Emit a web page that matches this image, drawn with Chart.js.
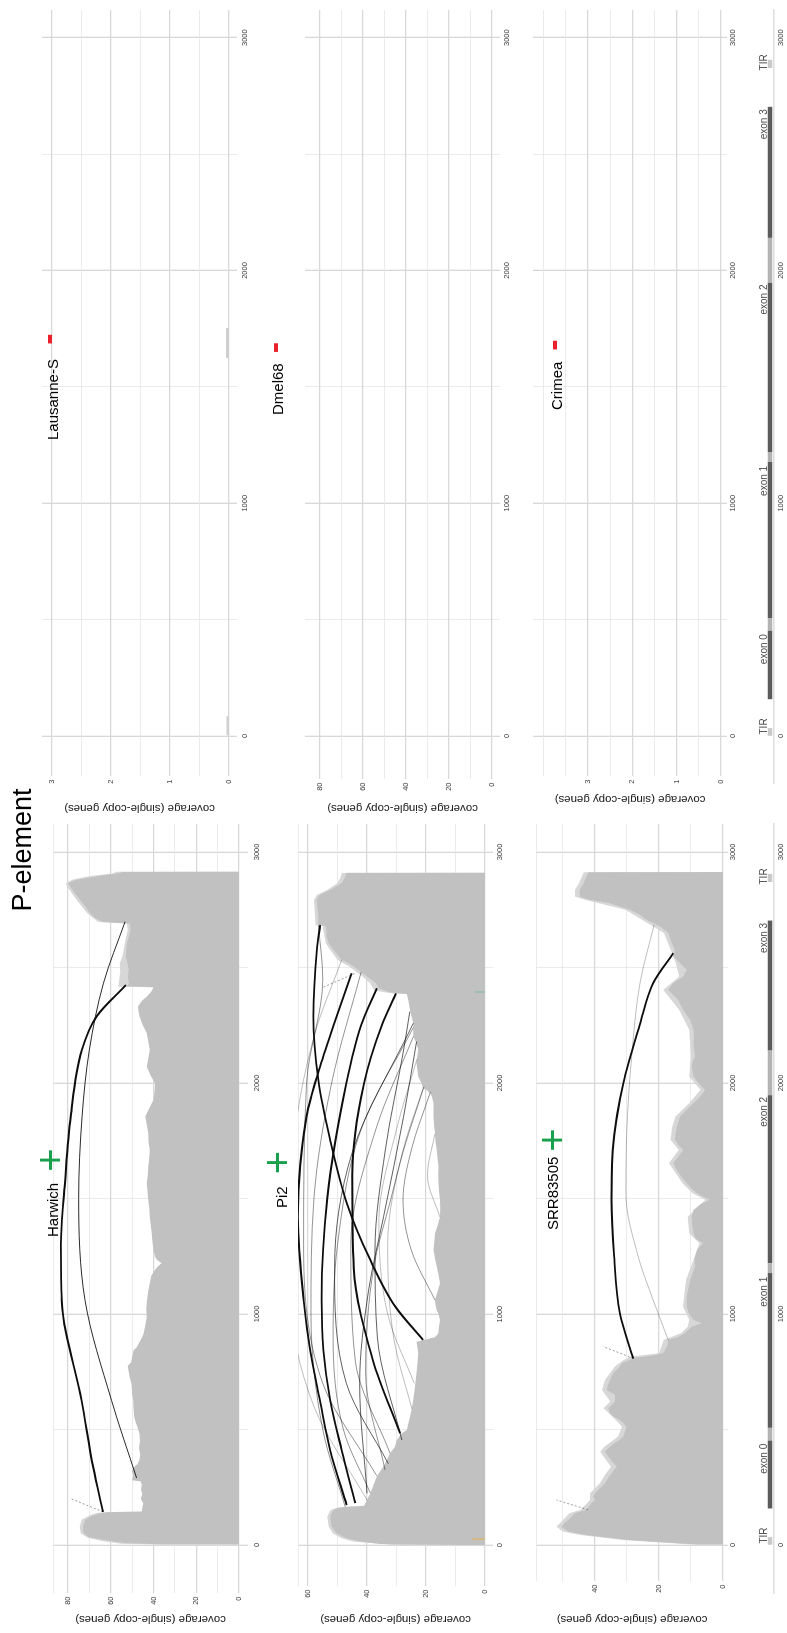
<!DOCTYPE html>
<html>
<head>
<meta charset="utf-8">
<title>P-element coverage</title>
<script src="https://cdn.jsdelivr.net/npm/chart.js@4.4.1/dist/chart.umd.min.js"></script>
<style>
  html, body { margin:0; padding:0; background:#fff; width:787px; height:1633px; overflow:hidden; }
  /* the figure is laid out in landscape and turned a quarter-turn counter-clockwise */
  #sheet { position:absolute; left:0; top:0; width:1633px; height:787px; transform-origin:0 0;
           transform: translate(0px, 1633px) rotate(-90deg);
           font-family:"Liberation Sans", Arial, Helvetica, sans-serif; background:#fff; }
  #sheet canvas { position:absolute; }
  .txt { position:absolute; white-space:nowrap; color:#000; }
</style>
</head>
<body>
<div id="sheet"></div>
<script>
// ---------------- data ----------------
const xTicks = [0, 500, 1000, 1500, 2000, 2500, 3000];
const xLabelTicks = [0, 1000, 2000, 3000];

// coverage profiles: [position (bp), coverage]
const harwichCoverage = [[0,0],[3,38],[9,54],[20,62],[35,70.6],[50,72.5],[63,73],[85,72.8],[108,72],[125,69],[137,65],[142,62],[145,45.5],[160,45.3],[180,44.8],[200,46],[220,45.3],[240,45.8],[260,45.5],[275,46],[280,50],[300,49.5],[320,50.2],[338,49],[350,47.5],[366,46.7],[390,46.2],[420,46.8],[450,46.3],[481,46.5],[510,47.5],[530,48.3],[553,49],[590,49.3],[625,49.5],[660,50],[697,50.3],[730,51.2],[760,51.8],[775,52],[790,50.5],[810,50],[842,49.4],[855,48],[870,47],[890,45.8],[913,44.7],[950,43.8],[986,43.1],[1020,43.4],[1058,43],[1100,42.5],[1133,41.7],[1165,41],[1191,39.3],[1205,38],[1220,36.2],[1235,38.5],[1248,39.3],[1277,40],[1310,40.5],[1349,40.8],[1385,41.3],[1421,41.7],[1460,42],[1494,42.4],[1530,42.8],[1566,43.2],[1600,42.7],[1638,42.4],[1675,42],[1710,41.7],[1745,42.3],[1782,42.4],[1820,43.2],[1855,43.9],[1890,42],[1927,40],[1960,39.5],[1999,39.3],[2035,41.5],[2071,43.2],[2105,42.4],[2143,41.7],[2180,42.5],[2216,43.2],[2250,45],[2288,46.5],[2310,47],[2331,47.3],[2355,45.5],[2374,43.2],[2395,41],[2414,40],[2418,52.4],[2432,51.5],[2460,52],[2490,51.6],[2519,52.2],[2548,53],[2575,52.7],[2605,52.4],[2635,51.5],[2663,50.8],[2690,51],[2697,64],[2715,67.5],[2735,69.7],[2765,72],[2793,74.4],[2822,76.8],[2851,79],[2865,80],[2880,76],[2895,66],[2908,56],[2914,54.5],[2915,0]];
const harwichTotal = [[0,0],[1,36],[5,55],[15,63],[30,70.5],[50,74],[80,74.5],[110,73.5],[130,69.5],[140,66],[143,0],[2414,0],[2416,56.5],[2450,56],[2480,55.5],[2519,55.8],[2548,54.5],[2605,53.5],[2663,52],[2690,52.5],[2697,66],[2735,71],[2793,76],[2851,80.5],[2865,81],[2880,78],[2895,70],[2908,58.5],[2915,57.5],[2916,0]];

const pi2Coverage = [[0,0],[3,30],[5,35.6],[15,42],[29,46.9],[50,50.3],[79,52],[100,52.3],[123,52.5],[140,52],[151,51.4],[160,50],[166,47.4],[170,41],[195,40],[224,38.9],[260,37.8],[296,36.7],[320,35.5],[339,34.5],[370,33.2],[397,32.2],[426,30.5],[455,29.9],[484,28.2],[498,26.5],[525,26],[556,25.4],[590,24.8],[628,24.3],[660,24],[686,23.7],[715,23.5],[744,23.2],[790,22.9],[830,22.6],[860,23],[880,23.2],[887,21],[900,17],[916,15.9],[945,15.6],[974,15.3],[1000,15.8],[1017,16.4],[1040,16.8],[1061,17],[1100,16],[1133,15.3],[1170,15.8],[1205,16.4],[1240,17],[1277,17.5],[1310,17.2],[1349,17],[1385,16],[1421,15.3],[1460,15.2],[1494,15.3],[1530,15.6],[1566,15.8],[1600,15.9],[1638,15.8],[1675,16.1],[1710,16.4],[1745,16.8],[1782,17],[1820,17.3],[1855,17.5],[1912,17.5],[1940,18],[1956,18.6],[1970,19.8],[1977,21],[1999,21.5],[2028,22.6],[2060,23],[2086,23.2],[2115,23],[2143,22.6],[2172,23.2],[2201,24.3],[2259,24.3],[2288,24.9],[2316,25.4],[2360,26],[2385,26.5],[2388,29.9],[2395,33],[2410,36],[2432,37],[2461,40],[2480,42],[2504,44.5],[2520,46.5],[2533,48.6],[2555,50],[2576,51.4],[2605,53],[2634,53.7],[2663,53.7],[2680,54],[2684,56.5],[2720,56.5],[2760,56.8],[2793,57.1],[2814,56],[2836,52.5],[2865,48.6],[2890,47.5],[2910,47],[2911,0]];
const pi2Total = [[0,0],[2,32],[15,44.5],[29,48.5],[50,51.5],[79,53],[123,53.5],[151,52.5],[163,50],[166,0],[2386,0],[2388,31.5],[2400,37.5],[2432,39],[2461,41.5],[2504,46],[2533,50],[2576,52.5],[2605,54],[2663,54.8],[2682,55],[2684,57.5],[2793,58],[2814,57],[2836,53.5],[2865,50],[2890,49],[2910,48.5],[2911,0]];

const srrCoverage = [[0,0],[2,8],[5,11.3],[21,29],[43,42.6],[58,48.3],[79,50.4],[95,49.5],[108,48.3],[120,47.5],[137,46.3],[152,42.6],[173,41.6],[195,40],[210,40.5],[224,40],[245,38.5],[267,36.9],[290,35.8],[310,34.8],[325,34],[339,33.2],[360,34.5],[383,35.8],[404,36.9],[426,35.3],[440,34],[455,32.2],[469,31.1],[490,30.6],[512,30.1],[525,31],[541,32.2],[555,34],[570,35.3],[592,35.8],[610,34.5],[621,33.7],[650,33.7],[660,35],[671,36.4],[690,36],[714,35.3],[743,34.3],[772,32.2],[787,31.6],[801,29],[810,27.5],[820,22],[830,18.6],[859,17.5],[888,17],[900,14],[917,11.8],[945,9.7],[960,6.6],[974,9.2],[1003,10.7],[1032,11.3],[1075,11.3],[1118,10.7],[1147,10.2],[1175,9.5],[1205,8.7],[1240,8.9],[1280,8],[1306,6.1],[1325,8.5],[1349,9.2],[1385,9.6],[1421,9.7],[1450,9.2],[1475,7],[1494,4],[1510,6.5],[1523,8.2],[1545,10],[1566,11.3],[1595,13],[1624,14.4],[1653,15.5],[1680,14],[1710,12.4],[1730,13.8],[1754,15],[1780,14.8],[1811,14.4],[1835,13.8],[1855,13.4],[1884,11.3],[1913,9.2],[1941,7.1],[1970,5.6],[1999,7.6],[2028,9.2],[2071,9.7],[2095,9.3],[2115,8.7],[2145,9],[2172,9.2],[2200,9],[2230,9.2],[2273,10.2],[2316,12.4],[2360,14],[2385,15.8],[2403,17.1],[2432,15.5],[2461,12.4],[2490,11.3],[2519,13.4],[2548,15.5],[2576,15],[2605,16],[2649,17],[2677,19.6],[2706,23.8],[2728,25.9],[2750,29],[2778,35.3],[2793,41.6],[2807,44.7],[2836,44.7],[2865,43.5],[2894,42.6],[2912,42],[2913,0]];
const srrTotal = [[0,0],[2,10],[5,13],[21,31],[43,44.5],[58,50],[79,52],[108,50],[137,48],[152,44.5],[195,41.5],[224,41.5],[267,38.5],[310,36.5],[339,35],[383,37.3],[404,38.3],[426,37],[469,32.8],[512,31.5],[541,33.5],[592,37.3],[621,35.2],[671,37.8],[714,36.8],[772,33.8],[801,31],[815,29],[830,20],[888,18.5],[917,13],[945,11],[974,10.5],[1032,12.5],[1147,11.5],[1205,10],[1306,7.3],[1349,10.5],[1421,11],[1494,5.5],[1523,9.5],[1566,12.6],[1653,16.8],[1710,13.8],[1754,16.4],[1811,15.8],[1855,14.8],[1913,10.5],[1970,7],[2028,10.5],[2115,10],[2230,10.5],[2316,13.6],[2403,18.6],[2461,13.6],[2519,14.7],[2576,16.3],[2649,18.4],[2706,25.2],[2750,30.5],[2793,43.2],[2807,46.2],[2836,46.2],[2865,45],[2894,44],[2912,43.5],[2913,0]];

const lausanneCoverage = [[0,0],[3,0.04],[84,0.04],[86,0],[1622,0],[1625,0.05],[1752,0.05],[1755,0]];

// split-read junctions: traced points along each arc, plus supporting read counts
const harwichArcs = [
  [[143,63.6],[336,68.2],[625,73.6],[1058,82.9],[1300,83.3],[1566,81.4],[1855,78.7],[2143,73.5],[2288,66.6],[2424,52.9]],
  [[290,47.9],[625,59.6],[1058,72],[1500,75],[1855,73.4],[2143,70],[2432,63.4],[2698,53.3]]
];
const harwichArcReads = [9, 4];

const pi2Arcs = [
  [[888,21],[1032,30.4],[1234,38.9],[1479,46.8],[1754,52.5],[2013,56.5],[2288,58.2],[2576,57],[2684,55.9]],
  [[173,46.9],[411,52.5],[628,56],[844,59.3],[1061,61.5],[1421,63.5],[1855,60.5],[2071,55.9],[2288,50.3],[2475,45.2]],
  [[182,44],[411,48.6],[628,52.5],[844,54.8],[1061,55.4],[1500,53.5],[2000,47],[2250,42],[2410,36.7]],
  [[484,28.8],[800,38],[1200,44.5],[1600,45],[2000,41],[2250,35],[2388,30.2]],
  [[455,28.2],[900,36.5],[1277,37.3],[1710,33.8],[2143,27.6],[2309,25.5]],
  [[224,40],[700,42.5],[1100,39.5],[1421,34.4],[1855,27.6],[2179,23.2]],
  [[325,33.9],[750,40.5],[1205,37.7],[1494,32],[1710,27.6],[1984,20.7]],
  [[1061,17],[1277,25],[1494,27.8],[1710,25],[1962,18.5]],
  [[300,36.7],[700,55],[1300,61.5],[2000,60.5],[2450,55],[2684,56.5]],
  [[397,32.2],[800,44],[1300,45.5],[1800,37],[2201,24.3]],
  [[353,32.8],[700,47],[1200,51],[1700,45],[2259,24.3]],
  [[700,24],[1000,33],[1400,36],[1800,30],[2105,23]],
  [[590,24.8],[900,31],[1300,33],[1700,28],[1977,21]],
  [[166,47.4],[500,55],[1000,59],[1500,58],[2000,52],[2480,42]],
  [[195,40],[600,58],[1100,66],[1700,65],[2200,58],[2533,48.6]],
  [[1420,15.3],[1600,19.5],[1780,17]],
  [[226,38.9],[500,48],[900,51.5],[1300,50],[1800,42],[2240,24.3]]
];
const pi2ArcReads = [9, 8, 7, 7, 3, 3, 2, 2, 2, 2, 3, 1, 1, 2, 1, 1, 2];

const srrArcs = [
  [[807,28],[1003,32.2],[1250,34],[1494,34.8],[1710,34.4],[1999,31.1],[2250,26],[2432,21.8],[2562,15.5]],
  [[885,17],[1061,21.8],[1250,26.5],[1523,30.3],[1800,30],[2100,28.6],[2432,25.9],[2684,21.5]]
];
const srrArcReads = [8, 1];

// short clipped (soft-clip) links
const harwichClips = [[[143,63.6],[202,79]]];
const pi2Clips = [[[2415,54.8],[2475,44]]];
const srrClips = [[[152,42.1],[195,52]],[[808,28],[859,37.4]]];

// isolated single-read marks in Pi2
const pi2MarkPos = [26, 2394];
const pi2MarkHeight = [4.5, 3.4];

// element annotation
const annoStart = [1, 158, 452, 507, 1177, 1220, 1947, 2140, 2870];
const annoEnd   = [34, 452, 507, 1177, 1220, 1947, 2140, 2703, 2905];
const annoKind  = ['TIR','exon','intron','exon','intron','exon','intron','exon','TIR'];
const annoLabels = ['TIR', 'exon 0', 'exon 1', 'exon 2', 'exon 3', 'TIR'];
const annoLabelPos = [41, 373, 1096, 1875, 2628, 2894];

// y-axis ticks (grid) and labelled ticks
const harwichYTicks = [0,10,20,30,40,50,60,70,80,87];  const harwichYLabels = [0,20,40,60,80];
const lausanneYTicks = [0,0.5,1,1.5,2,2.5,3];           const lausanneYLabels = [0,1,2,3];
const pi2YTicks = [0,10,20,30,40,50,60,63.4];           const pi2YLabels = [0,20,40,60];
const dmelYTicks = [0,10,20,30,40,50,60,70,80];         const dmelYLabels = [0,20,40,60,80];
const srrYTicks = [0,10,20,30,40,50,58.4];              const srrYLabels = [0,20,40];
const crimeaYTicks = [0,0.5,1,1.5,2,2.5,3,3.5,4];       const crimeaYLabels = [0,1,2,3];

// ---------------- drawing ----------------
const FONT = '"Liberation Sans", Arial, Helvetica, sans-serif';
Chart.defaults.font.family = FONT;
const sheet = document.getElementById('sheet');

const COL_DARK = '#c1c1c1', COL_LIGHT = '#d7d7d7';
const GRID_MAJOR = '#d8d8d8', GRID_MINOR = '#e6e6e6';
const TICK_COL = '#3a3a3a';

function addCanvas(box) {
  const cv = document.createElement('canvas');
  cv.width = box[2]; cv.height = box[3];
  cv.style.left = box[0] + 'px'; cv.style.top = box[1] + 'px';
  cv.style.width = box[2] + 'px'; cv.style.height = box[3] + 'px';
  sheet.appendChild(cv);
  return cv;
}

function areaSet(pairs, color, order) {
  return { data: pairs.map(p => ({x: p[0], y: p[1]})), borderColor: 'rgba(0,0,0,0)', borderWidth: 0.1,
           backgroundColor: color, fill: 'origin', pointRadius: 0, tension: 0, order };
}
function arcSet(pts, reads) {
  const strong = reads >= 6;
  return { data: pts.map(p => ({x: p[0], y: p[1]})),
           borderColor: strong ? '#0d0d0d' : 'rgba(0,0,0,' + Math.min(0.9, 0.3 + 0.16 * reads).toFixed(2) + ')',
           borderWidth: strong ? 1.9 : 0.45 + 0.12 * reads,
           cubicInterpolationMode: 'monotone', pointRadius: 0, fill: false, order: 0 };
}
function clipSet(seg) {
  return { data: seg.map(p => ({x: p[0], y: p[1]})), borderColor: 'rgba(60,60,60,0.7)', borderWidth: 0.7,
           borderDash: [2, 2], pointRadius: 0, fill: false, order: 1 };
}

function makePanel(p) {
  const cv = addCanvas(p.box);
  const padTop = p.area[1] - p.box[1];
  const padRight = p.box[0] + p.box[2] - p.area[2];
  const yW = p.area[0] - p.box[0];
  const xH = p.box[1] + p.box[3] - p.area[3];
  return new Chart(cv, {
    type: 'line',
    data: { datasets: p.datasets },
    options: {
      responsive: false, animation: false, devicePixelRatio: 1, events: [],
      layout: { padding: { top: padTop, right: padRight, left: 0, bottom: 0 } },
      plugins: { legend: { display: false }, tooltip: { enabled: false } },
      scales: {
        x: {
          type: 'linear', min: p.x[0], max: p.x[1],
          afterBuildTicks: s => { s.ticks = xTicks.map(v => ({ value: v })); },
          afterFit: s => { s.height = xH; },
          grid: { drawTicks: false,
                  color: c => (c.tick && c.tick.value % 1000 === 0) ? GRID_MAJOR : GRID_MINOR,
                  lineWidth: c => (c.tick && c.tick.value % 1000 === 0) ? 1.3 : 0.8 },
          border: { display: false },
          ticks: { padding: p.xPad, font: { size: 7.5 }, color: TICK_COL, autoSkip: false, maxRotation: 0,
                   callback: v => xLabelTicks.includes(v) ? String(v) : '' }
        },
        y: {
          type: 'linear', min: p.y[0], max: p.y[1],
          afterBuildTicks: s => { s.ticks = p.yTicks.map(v => ({ value: v })); },
          afterFit: s => { s.width = yW; },
          grid: { drawTicks: false,
                  color: c => (c.tick && p.yLabels.includes(c.tick.value)) ? GRID_MAJOR : GRID_MINOR,
                  lineWidth: c => (c.tick && p.yLabels.includes(c.tick.value)) ? 1.3 : 0.8 },
          border: { display: false },
          ticks: { padding: 3.5, font: { size: 7.5 }, color: TICK_COL, autoSkip: false,
                   callback: v => p.yLabels.includes(v) ? String(v) : '' },
          title: { display: true, text: 'coverage (single-copy genes)', color: '#222',
                   font: { size: 11.5 }, padding: { top: p.titlePad, bottom: 0 } }
        }
      }
    }
  });
}

function coverageSets(cov, total, arcs, reads, clips) {
  const sets = [areaSet(total, COL_LIGHT, 3), areaSet(cov, COL_DARK, 2)];
  clips.forEach(c => sets.push(clipSet(c)));
  arcs.forEach((a, i) => sets.push(arcSet(a, reads[i])));
  return sets;
}

const LBOX = [0, 815], RBOX = [815, 818];

// Harwich
makePanel({ box: [LBOX[0], 25, LBOX[1], 245], area: [40, 53, 809, 248], x: [-208, 3121], y: [-4.2, 87],
  yTicks: harwichYTicks, yLabels: harwichYLabels, titlePad: 7.1, xPad: 4.5,
  datasets: coverageSets(harwichCoverage, harwichTotal, harwichArcs, harwichArcReads, harwichClips) });

// Lausanne-S
makePanel({ box: [RBOX[0], 25, RBOX[1], 245], area: [857, 42, 1623, 237], x: [-172, 3119], y: [-0.136, 3.17],
  yTicks: lausanneYTicks, yLabels: lausanneYLabels, titlePad: 3.1, xPad: 3.5,
  datasets: [areaSet(lausanneCoverage, '#cfcfcf', 2)] });

// Pi2
const pi2Sets = coverageSets(pi2Coverage, pi2Total, pi2Arcs, pi2ArcReads, pi2Clips);
const markColors = ['#e2b15a', '#86c0ac'];
pi2MarkPos.forEach((x, i) => pi2Sets.push({ data: [{x, y: 0}, {x, y: pi2MarkHeight[i]}], borderColor: markColors[i],
  borderWidth: 1.2, pointRadius: 0, fill: false, order: 0 }));
makePanel({ box: [LBOX[0], 280, LBOX[1], 235], area: [47, 298, 809, 493], x: [-177, 3121], y: [-2.7, 63.4],
  yTicks: pi2YTicks, yLabels: pi2YLabels, titlePad: 7.1, xPad: 2.5, datasets: pi2Sets });

// Dmel68
makePanel({ box: [RBOX[0], 280, RBOX[1], 235], area: [854, 305, 1623, 500], x: [-185, 3119], y: [-3.7, 87],
  yTicks: dmelYTicks, yLabels: dmelYLabels, titlePad: 3.1, xPad: 2.5, datasets: [] });

// SRR83505
makePanel({ box: [LBOX[0], 520, LBOX[1], 225], area: [52, 536, 809, 728], x: [-156, 3121], y: [-1.6, 58.4],
  yTicks: srrYTicks, yLabels: srrYLabels, titlePad: 7.1, xPad: 0.5,
  datasets: coverageSets(srrCoverage, srrTotal, srrArcs, srrArcReads, srrClips) });

// Crimea
makePanel({ box: [RBOX[0], 520, RBOX[1], 225], area: [857, 533, 1623, 727], x: [-172, 3119], y: [-0.135, 4.24],
  yTicks: crimeaYTicks, yLabels: crimeaYLabels, titlePad: 12.1, xPad: 1.5, datasets: [] });

// element annotation tracks
const KIND_COLOR = { exon: '#5b5b5b', intron: '#b3b3b3', TIR: '#c9c9c9' };
const trackLabels = {
  id: 'trackLabels',
  afterDatasetsDraw(chart) {
    const { ctx, scales: { x }, chartArea } = chart;
    ctx.save();
    ctx.font = '10px ' + FONT; ctx.fillStyle = '#4d4d4d';
    ctx.textAlign = 'center'; ctx.textBaseline = 'alphabetic';
    annoLabels.forEach((t, i) => ctx.fillText(t, x.getPixelForValue(annoLabelPos[i]), chartArea.top + 0.5));
    ctx.restore();
  }
};
function makeTrack(box, area, xr) {
  const cv = addCanvas(box);
  const datasets = annoStart.map((s, i) => ({
    data: [{x: s, y: 0}, {x: annoEnd[i], y: 0}], borderColor: KIND_COLOR[annoKind[i]],
    borderWidth: 4.5, borderCapStyle: 'butt', pointRadius: 0, fill: false }));
  new Chart(cv, {
    type: 'line', data: { datasets },
    options: {
      responsive: false, animation: false, devicePixelRatio: 1, events: [],
      layout: { padding: { left: area[0] - box[0], top: area[1] - box[1], right: box[0] + box[2] - area[2], bottom: 0 } },
      plugins: { legend: { display: false }, tooltip: { enabled: false } },
      scales: {
        x: { type: 'linear', min: xr[0], max: xr[1],
             afterBuildTicks: s => { s.ticks = xLabelTicks.map(v => ({ value: v })); },
             afterFit: s => { s.height = box[1] + box[3] - area[3]; },
             grid: { display: false, drawTicks: false },
             border: { display: true, color: '#dedede', width: 1.5 },
             ticks: { padding: 2.5, font: { size: 7.5 }, color: TICK_COL, autoSkip: false, maxRotation: 0,
                      callback: v => String(v) } },
        y: { type: 'linear', display: false, min: -1, max: 1 }
      }
    },
    plugins: [trackLabels]
  });
}
makeTrack([LBOX[0], 745, LBOX[1], 42], [40, 766, 809, 774], [-208, 3121]);
makeTrack([RBOX[0], 745, RBOX[1], 42], [850, 766, 1623, 774], [-202, 3119]);

// ---------------- text ----------------
function addText(txt, left, baseline, size, color, weight) {
  const d = document.createElement('div');
  d.className = 'txt'; d.textContent = txt;
  d.style.fontSize = size + 'px'; d.style.lineHeight = size + 'px';
  d.style.left = left + 'px'; d.style.top = (baseline - 0.8465 * size) + 'px';
  d.style.color = color || '#000';
  if (weight) d.style.fontWeight = weight;
  sheet.appendChild(d);
  return d;
}
function addCentered(txt, cx, top, size, color, weight) {
  const d = document.createElement('div');
  d.className = 'txt'; d.textContent = txt;
  d.style.fontSize = size + 'px'; d.style.lineHeight = size + 'px';
  d.style.width = '300px'; d.style.textAlign = 'center';
  d.style.left = (cx - 150) + 'px'; d.style.top = top + 'px';
  d.style.color = color; if (weight) d.style.fontWeight = weight;
  sheet.appendChild(d);
}

addCentered('P-element', 783, 32 - 0.8465 * 27, 27, '#000');

const GREEN = '#18a04c', RED = '#e8212b';
addText('Harwich', 396, 58, 15);    addCentered('+', 473, 49.5 - 20, 40, GREEN);
addText('Pi2', 425, 287, 15);       addCentered('+', 470.5, 276.5 - 20, 40, GREEN);
addText('SRR83505', 403, 558, 15);  addCentered('+', 493, 551.5 - 20, 40, GREEN);
addText('Lausanne-S', 1193, 58, 15);  addCentered('-', 1294, 49.5 - 19.9, 34, RED, 'bold');
addText('Dmel68', 1218, 283, 15);     addCentered('-', 1285.5, 275.5 - 19.9, 34, RED, 'bold');
addText('Crimea', 1223, 562, 15);     addCentered('-', 1288, 554.5 - 19.9, 34, RED, 'bold');
</script>
</body>
</html>
